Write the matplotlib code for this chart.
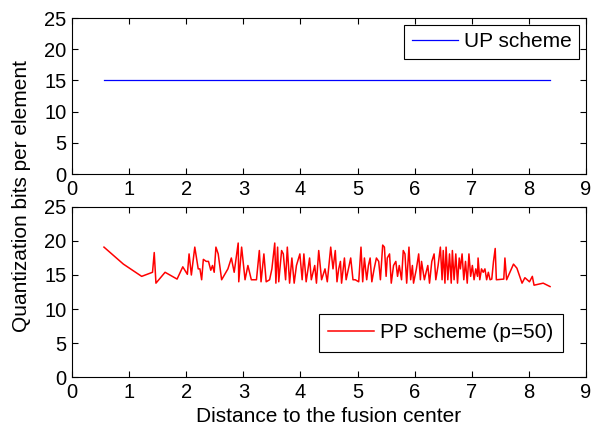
import matplotlib
matplotlib.use("Agg")
import matplotlib.pyplot as plt

plt.rcParams['font.family'] = ['Liberation Sans', 'DejaVu Sans']

# UP scheme: constant bits per element
up_dist = [0.56, 8.37]
up_bits = [15, 15]

# PP scheme (p=50): values
pp_dist = [0.56, 0.90, 1.22, 1.41, 1.44, 1.47, 1.63, 1.84, 1.94, 2.02,
           2.05, 2.09, 2.15, 2.21, 2.24, 2.27, 2.30, 2.35, 2.39, 2.43,
           2.46, 2.49, 2.52, 2.56, 2.62, 2.73, 2.79, 2.84, 2.91, 2.92,
           2.97, 3.03, 3.08, 3.14, 3.23, 3.28, 3.31, 3.36, 3.40, 3.46,
           3.50, 3.55, 3.57, 3.60, 3.62, 3.67, 3.70, 3.74, 3.77, 3.81,
           3.85, 3.89, 3.93, 3.99, 4.03, 4.06, 4.10, 4.16, 4.19, 4.25,
           4.28, 4.32, 4.37, 4.43, 4.47, 4.53, 4.57, 4.61, 4.64, 4.67,
           4.70, 4.72, 4.77, 4.80, 4.84, 4.88, 4.92, 4.96, 5.02, 5.06,
           5.09, 5.12, 5.16, 5.19, 5.22, 5.25, 5.29, 5.33, 5.37, 5.40,
           5.44, 5.47, 5.50, 5.52, 5.56, 5.59, 5.63, 5.67, 5.70, 5.73,
           5.77, 5.80, 5.83, 5.86, 5.90, 5.93, 5.96, 5.98, 6.03, 6.07,
           6.10, 6.12, 6.17, 6.20, 6.23, 6.26, 6.30, 6.34, 6.37, 6.41,
           6.45, 6.48, 6.50, 6.53, 6.55, 6.58, 6.61, 6.64, 6.66, 6.69,
           6.72, 6.75, 6.78, 6.80, 6.83, 6.86, 6.89, 6.92, 6.95, 6.98,
           7.01, 7.04, 7.07, 7.10, 7.11, 7.14, 7.17, 7.20, 7.23, 7.26,
           7.29, 7.32, 7.35, 7.38, 7.41, 7.43, 7.56, 7.58, 7.61, 7.73,
           7.79, 7.88, 7.93, 8.01, 8.06, 8.09, 8.25, 8.37]
pp_bits = [19.1, 16.6, 14.8, 15.4, 18.3, 13.8, 15.4, 14.4, 16.2, 15.1,
           18.1, 15.0, 19.1, 15.9, 15.9, 14.3, 17.3, 17.0, 17.0, 15.7,
           16.4, 15.4, 19.1, 18.1, 14.3, 15.9, 17.5, 15.4, 19.7, 14.0,
           19.1, 14.3, 16.4, 14.3, 14.3, 18.6, 14.0, 18.1, 14.0, 14.3,
           15.9, 19.7, 13.8, 19.1, 14.0, 18.6, 18.1, 14.3, 19.1, 13.8,
           17.5, 13.8, 16.4, 18.1, 14.3, 18.1, 14.0, 17.5, 14.3, 16.4,
           13.8, 18.6, 14.3, 15.9, 14.0, 19.1, 15.9, 18.6, 14.0, 15.9,
           17.0, 13.8, 17.5, 14.3, 15.9, 17.5, 14.3, 14.3, 14.0, 19.1,
           14.0, 17.5, 14.3, 16.4, 17.5, 14.0, 15.9, 17.5, 17.0, 14.3,
           19.4, 19.1, 14.8, 17.5, 18.1, 13.8, 16.4, 17.0, 14.8, 16.4,
           14.3, 18.6, 18.1, 13.8, 19.1, 14.3, 16.4, 13.8, 15.9, 18.1,
           14.3, 17.0, 14.3, 15.4, 16.4, 13.8, 17.0, 18.1, 14.3, 16.4,
           19.1, 14.3, 18.6, 13.8, 19.1, 14.3, 18.1, 13.8, 18.6, 14.3,
           18.1, 13.8, 17.5, 15.9, 18.1, 14.3, 17.0, 13.8, 18.1, 14.8,
           16.4, 14.3, 15.9, 14.8, 17.5, 14.3, 15.9, 15.4, 15.9, 14.3,
           15.4, 14.3, 14.4, 17.0, 18.9, 14.3, 14.4, 17.5, 14.3, 16.6,
           16.0, 13.8, 14.6, 14.0, 14.8, 13.5, 13.8, 13.3]

xticks = list(range(0, 10))
yticks = [0, 5, 10, 15, 20, 25]

fig = plt.figure(figsize=(5.92, 4.29), dpi=100)
ax1 = fig.add_axes([0.1216, 0.5944, 0.8683, 0.3636])
ax2 = fig.add_axes([0.1216, 0.1212, 0.8683, 0.3963])

ax1.plot(up_dist, up_bits, color='#0000ff', lw=0.9, label='UP scheme')
ax2.plot(pp_dist, pp_bits, color='#ff0000', lw=1.1, label='PP scheme (p=50)')

for ax in (ax1, ax2):
    ax.set_xlim(0, 9)
    ax.set_ylim(0, 25)
    ax.set_xticks(xticks)
    ax.set_yticks(yticks)
    ax.tick_params(direction='in', top=True, right=True, length=4, width=0.8,
                   labelsize=14.5, pad=4)
    for s in ax.spines.values():
        s.set_linewidth(0.8)

leg1 = ax1.legend(loc='upper right', bbox_to_anchor=(0.986, 0.955), borderaxespad=0,
                  fontsize=15, fancybox=False, framealpha=1, edgecolor='black',
                  handlelength=2.2, handletextpad=0.3, borderpad=0.35)
leg1.get_frame().set_linewidth(0.8)
leg2 = ax2.legend(loc='lower right', bbox_to_anchor=(0.955, 0.148), borderaxespad=0,
                  fontsize=15, fancybox=False, framealpha=1, edgecolor='black',
                  handlelength=2.2, handletextpad=0.3, borderpad=0.45)
leg2.get_frame().set_linewidth(0.8)

ax2.set_xlabel('Distance to the fusion center', fontsize=15, labelpad=4)
fig.text(0.036, 0.544, 'Quantization bits per element', rotation=90,
         ha='center', va='center', fontsize=15)

fig.savefig('out.png', dpi=100)
